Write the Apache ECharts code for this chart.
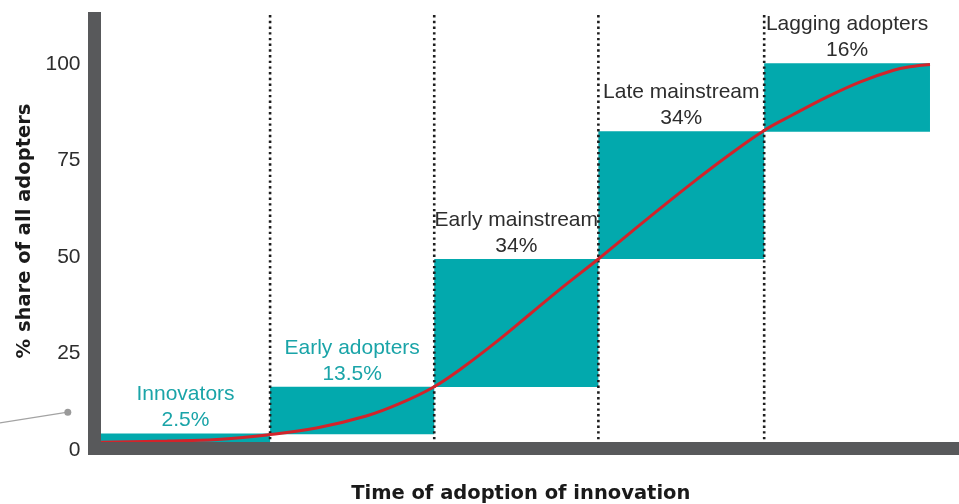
<!DOCTYPE html>
<html>
<head>
<meta charset="utf-8">
<script src="https://cdn.jsdelivr.net/npm/echarts@6/dist/echarts.min.js"></script>
<style>
  html, body { margin: 0; padding: 0; background: #fff; }
  #chart { width: 959px; height: 504px; }
</style>
</head>
<body>
<div id="chart"></div>
<script>
// adopter groups
const groups = ["Innovators", "Early adopters", "Early mainstream", "Late mainstream", "Lagging adopters"];
const shares = ["2.5%", "13.5%", "34%", "34%", "16%"];
const edges = [0, 1.02, 2.01, 3.0, 4.0, 5.0];
const barBase = [0, 4.1, 16.3, 49.5, 82.5];
const barTop = [4.3, 16.4, 49.5, 82.6, 100.2];
const labelColors = ["#1aa4a8", "#1aa4a8", "#2d2d2d", "#2d2d2d", "#2d2d2d"];

// cumulative adoption curve
const curveX = [0, 0.4, 0.7, 1.0, 1.3, 1.6, 1.8, 2.01, 2.18, 2.39, 2.59, 2.79, 3.0, 3.19, 3.39, 3.59, 3.79, 4.0, 4.17, 4.38, 4.58, 4.78, 4.88, 5.0];
const curveY = [2.0, 2.3, 2.7, 3.9, 5.7, 8.8, 12.0, 16.4, 21.3, 28.2, 35.3, 42.4, 49.5, 56.2, 63.2, 70.0, 76.5, 82.8, 86.8, 91.5, 95.4, 98.4, 99.3, 99.9];

const yTicks = [0, 25, 50, 75, 100];
const dividerTop = 112.7;
const leaderLine = [[-0.61, 7.0], [-0.2, 9.8]];

const TEAL = "#02a9ad";
const AXIS = "#58595b";

const barRows = groups.map((g, i) => [edges[i], edges[i + 1], barBase[i], barTop[i], i]);
const dividerRows = edges.slice(1, 5).map(x => [x]);

const chart = echarts.init(document.getElementById("chart"), null, { renderer: "canvas" });

chart.setOption({
  animation: false,
  grid: { left: 94.5, right: 0, top: 12, bottom: 54, outerBoundsMode: "none", containLabel: false },
  xAxis: {
    type: "value",
    min: -0.039,
    max: 5.175,
    z: 5,
    offset: -2,
    axisLine: { onZero: false, lineStyle: { color: AXIS, width: 13, cap: "square" } },
    axisTick: { show: false },
    axisLabel: { show: false },
    splitLine: { show: false },
    name: "Time of adoption of innovation",
    nameLocation: "middle",
    nameGap: 36,
    nameTextStyle: {
      fontFamily: "DejaVu Sans", fontWeight: "bold", fontSize: 19.5,
      color: "#1a1a1a", padding: [0, 12, 0, 0]
    }
  },
  yAxis: {
    type: "value",
    min: 0,
    max: 113.5,
    interval: 25,
    z: 5,
    axisLine: { show: true, onZero: false, lineStyle: { color: AXIS, width: 13, cap: "butt" } },
    axisTick: { show: false },
    splitLine: { show: false },
    axisLabel: {
      margin: 14,
      padding: [4, 0, 0, 0],
      fontFamily: "Liberation Sans", fontSize: 21, color: "#2d2d2d",
      formatter: v => (yTicks.includes(v) ? String(v) : "")
    },
    name: "% share of all adopters",
    nameLocation: "middle",
    nameGap: 56,
    nameTextStyle: { fontFamily: "DejaVu Sans", fontWeight: "bold", fontSize: 19.5, color: "#1a1a1a" }
  },
  series: [
    {
      type: "custom",
      name: "groups",
      z: 2,
      silent: true,
      data: barRows,
      encode: { x: [0, 1], y: [2, 3] },
      renderItem: (params, api) => {
        const i = api.value(4);
        const p0 = api.coord([api.value(0), api.value(3)]);
        const p1 = api.coord([api.value(1), api.value(2)]);
        return {
          type: "rect",
          shape: { x: p0[0], y: p0[1], width: p1[0] - p0[0], height: p1[1] - p0[1] },
          style: { fill: TEAL },
          textContent: {
            style: {
              text: groups[i] + "\n" + shares[i],
              fill: labelColors[i],
              fontFamily: "Liberation Sans",
              fontSize: 21,
              lineHeight: 26,
              align: "center"
            }
          },
          textConfig: { position: "top", distance: 0 }
        };
      }
    },
    {
      type: "custom",
      name: "dividers",
      z: 3,
      silent: true,
      data: dividerRows,
      encode: { x: 0 },
      renderItem: (params, api) => {
        const top = api.coord([api.value(0), dividerTop]);
        const bot = api.coord([api.value(0), 0]);
        return {
          type: "line",
          shape: { x1: top[0], y1: top[1], x2: bot[0], y2: bot[1] },
          style: { stroke: "#1e1e1e", lineWidth: 2.6, lineDash: [2.4, 3.3], lineCap: "butt" }
        };
      }
    },
    {
      type: "line",
      name: "adoption",
      z: 4,
      silent: true,
      smooth: 0.4,
      showSymbol: false,
      data: curveX.map((x, i) => [x, curveY[i]]),
      lineStyle: { color: "#d2232a", width: 3 }
    },
    {
      type: "custom",
      name: "leader",
      z: 4,
      silent: true,
      clip: false,
      data: [leaderLine[0].concat(leaderLine[1])],
      renderItem: (params, api) => {
        const a = api.coord([api.value(0), api.value(1)]);
        const b = api.coord([api.value(2), api.value(3)]);
        return {
          type: "group",
          children: [
            { type: "line", shape: { x1: a[0], y1: a[1], x2: b[0], y2: b[1] },
              style: { stroke: "#a3a3a3", lineWidth: 1.3 } },
            { type: "circle", shape: { cx: b[0], cy: b[1], r: 3.5 }, style: { fill: "#9a9a9a" } }
          ]
        };
      }
    }
  ]
});
</script>
</body>
</html>
